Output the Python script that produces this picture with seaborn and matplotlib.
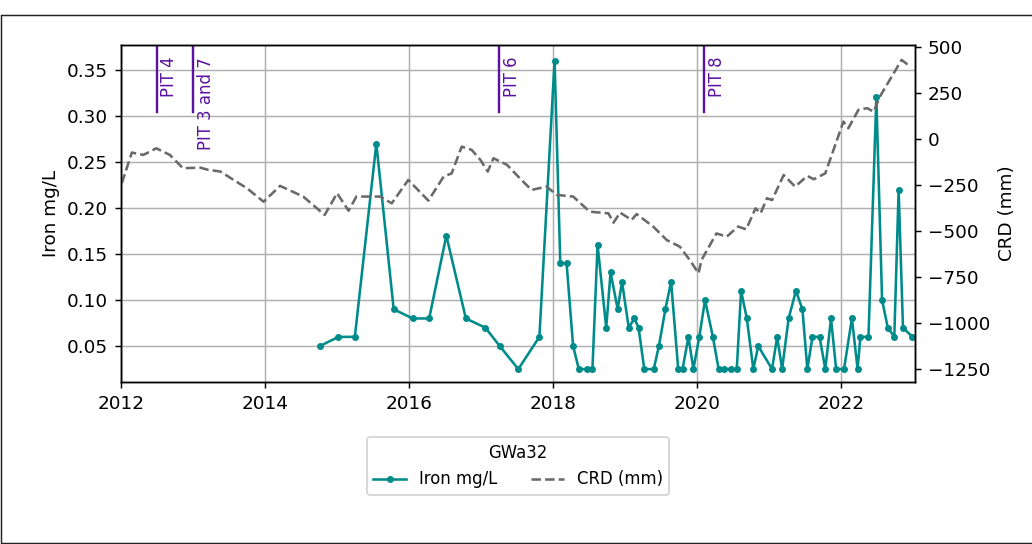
import matplotlib
matplotlib.use("Agg")
import matplotlib.pyplot as plt
import matplotlib.dates as mdates
from matplotlib.patches import Rectangle
import seaborn as sns
import pandas as pd

# Iron samples (mg/L)
iron_dates = [
    '2014-10-05', '2015-01-08', '2015-04-01', '2015-07-19', '2015-10-15',
    '2016-01-19', '2016-04-12', '2016-07-08', '2016-10-15', '2017-01-22',
    '2017-04-05', '2017-07-08', '2017-10-23', '2018-01-08', '2018-02-06',
    '2018-03-10', '2018-04-12', '2018-05-11', '2018-06-20', '2018-07-19',
    '2018-08-14', '2018-09-27', '2018-10-19', '2018-11-24', '2018-12-16',
    '2019-01-19', '2019-02-17', '2019-03-10', '2019-04-08', '2019-05-26',
    '2019-06-21', '2019-07-24', '2019-08-22', '2019-09-27', '2019-10-19',
    '2019-11-18', '2019-12-13', '2020-01-12', '2020-02-10', '2020-03-21',
    '2020-04-19', '2020-05-15', '2020-06-21', '2020-07-20', '2020-08-11',
    '2020-09-09', '2020-10-12', '2020-11-06', '2021-01-15', '2021-02-10',
    '2021-03-07', '2021-04-09', '2021-05-16', '2021-06-18', '2021-07-13',
    '2021-08-08', '2021-09-13', '2021-10-12', '2021-11-10', '2021-12-06',
    '2022-01-15', '2022-02-24', '2022-03-25', '2022-04-08', '2022-05-19',
    '2022-06-28', '2022-07-27', '2022-08-25', '2022-09-27', '2022-10-19',
    '2022-11-10', '2022-12-28',
]
iron_values = [
    0.05, 0.06, 0.06, 0.27, 0.09,
    0.08, 0.08, 0.17, 0.08, 0.07,
    0.05, 0.025, 0.06, 0.36, 0.14,
    0.14, 0.05, 0.025, 0.025, 0.025,
    0.16, 0.07, 0.13, 0.09, 0.12,
    0.07, 0.08, 0.07, 0.025, 0.025,
    0.05, 0.09, 0.12, 0.025, 0.025,
    0.06, 0.025, 0.06, 0.10, 0.06,
    0.025, 0.025, 0.025, 0.025, 0.11,
    0.08, 0.025, 0.05, 0.025, 0.06,
    0.025, 0.08, 0.11, 0.09, 0.025,
    0.06, 0.06, 0.025, 0.08, 0.025,
    0.025, 0.08, 0.025, 0.06, 0.06,
    0.32, 0.10, 0.07, 0.06, 0.22,
    0.07, 0.06,
]

# cumulative rainfall departure (mm)
crd_dates = [
    '2012-01-05', '2012-02-25', '2012-04-23', '2012-06-28', '2012-09-05',
    '2012-11-10', '2013-02-06', '2013-03-18', '2013-05-19', '2013-08-08',
    '2013-10-01', '2013-12-24', '2014-03-18', '2014-07-13', '2014-10-30',
    '2015-01-01', '2015-02-28', '2015-04-09', '2015-08-08', '2015-10-05',
    '2015-12-28', '2016-04-08', '2016-06-24', '2016-08-04', '2016-09-24',
    '2016-11-14', '2016-12-28', '2017-02-03', '2017-03-04', '2017-05-12',
    '2017-07-16', '2017-09-13', '2017-11-28', '2018-01-19', '2018-04-12',
    '2018-07-05', '2018-10-08', '2018-11-03', '2018-12-06', '2019-02-03',
    '2019-02-28', '2019-05-23', '2019-07-31', '2019-10-05', '2019-11-25',
    '2020-01-08', '2020-01-23', '2020-04-08', '2020-05-30', '2020-07-27',
    '2020-09-06', '2020-10-23', '2020-11-18', '2020-12-20', '2021-01-15',
    '2021-03-15', '2021-05-12', '2021-07-13', '2021-08-15', '2021-10-12',
    '2022-01-12', '2022-02-06', '2022-03-29', '2022-05-12', '2022-06-14',
    '2022-07-16', '2022-11-03', '2022-12-06',
]
crd_values = [
    -241, -74, -87, -51, -87,
    -159, -156, -168, -177, -232,
    -268, -341, -255, -313, -413,
    -295, -390, -313, -313, -350,
    -223, -335, -205, -187, -42,
    -60, -114, -177, -105, -141,
    -214, -277, -259, -304, -313,
    -395, -404, -455, -400, -440,
    -408, -476, -549, -585, -658,
    -730, -658, -513, -531, -476,
    -491, -377, -404, -322, -332,
    -196, -259, -201, -219, -187,
    94, 58, 158, 167, 148,
    230, 429, 402,
]

pit_names = ['PIT 4', 'PIT 3 and 7', 'PIT 6', 'PIT 8']
pit_dates = ['2012-07-01', '2013-01-01', '2017-04-01', '2020-02-06']

iron = pd.DataFrame({'date': pd.to_datetime(iron_dates), 'Iron mg/L': iron_values})
crd = pd.DataFrame({'date': pd.to_datetime(crd_dates), 'CRD (mm)': crd_values})

pit_color = '#5a12a0'

fig, ax = plt.subplots(figsize=(1032 / 132, 544 / 132), dpi=132)
fig.subplots_adjust(left=121 / 1032, right=915 / 1032, top=1 - 45 / 544, bottom=1 - 382 / 544)

sns.lineplot(data=iron, x='date', y='Iron mg/L', ax=ax, color='darkcyan', marker='o',
             markersize=3.8, markeredgewidth=0, linewidth=1.4, label='Iron mg/L')
ax.grid(True, color='#b0b0b0')
ax.set_ylim(0.011, 0.377)
ax.set_xlim(pd.Timestamp('2012-01-01'), pd.Timestamp('2023-01-10'))
ax.xaxis.set_major_locator(mdates.YearLocator(2))
ax.xaxis.set_major_formatter(mdates.DateFormatter('%Y'))
ax.set_xlabel('')
ax.set_ylabel('Iron mg/L')

for name, d in zip(pit_names, pit_dates):
    d = pd.Timestamp(d)
    ax.axvline(d, ymin=0.8, ymax=1.0, color=pit_color, lw=1.3)
    ax.text(d + pd.Timedelta(days=18), 0.965, name, transform=ax.get_xaxis_transform(),
            rotation=90, ha='left', va='top', color=pit_color, fontsize=9)

ax2 = ax.twinx()
sns.lineplot(data=crd, x='date', y='CRD (mm)', ax=ax2, color='dimgray', linestyle='--',
             linewidth=1.4, label='CRD (mm)')
ax2.set_ylim(-1320, 510)
ax2.set_yticks([-1250, -1000, -750, -500, -250, 0, 250, 500])
ax2.set_ylabel('CRD (mm)')

h1, l1 = ax.get_legend_handles_labels()
h2, l2 = ax2.get_legend_handles_labels()
ax2.get_legend().remove()
ax.legend(h1 + h2, l1 + l2, title='GWa32', loc='upper center', bbox_to_anchor=(0.5, -0.14),
          ncol=2, fontsize=9, title_fontsize=9)

# outer frame around the figure
fig.patches.append(Rectangle((0.5 / 1032, 1 / 544), 1.2, 528 / 544, transform=fig.transFigure,
                             fill=False, edgecolor='#222222', linewidth=0.8))

fig.savefig('out.png', dpi=132)
